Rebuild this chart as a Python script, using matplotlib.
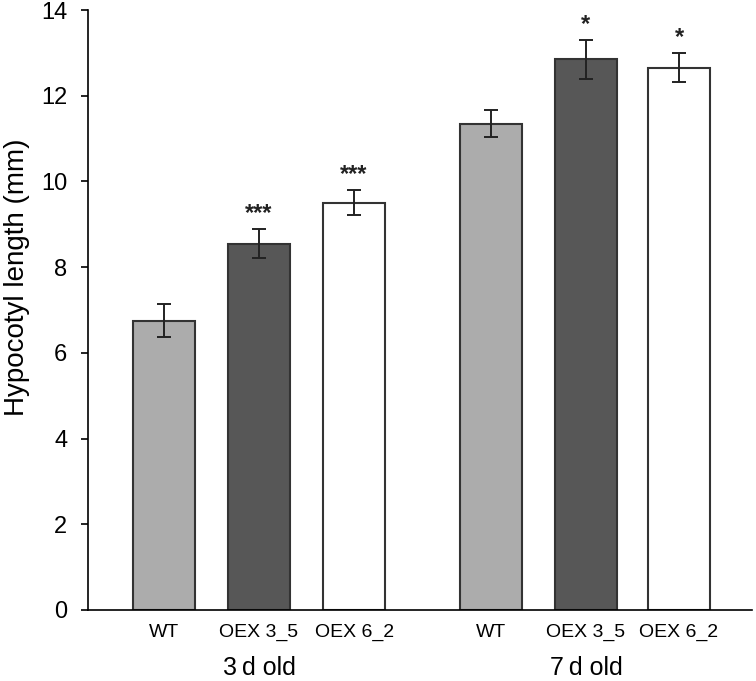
import matplotlib.pyplot as plt

plt.rcParams['font.family'] = ['Liberation Sans', 'DejaVu Sans']

# data
groups = ['3\u2009d old', '7\u2009d old']
lines = ['WT', 'OEX 3_5', 'OEX 6_2']
length_3d = [6.75, 8.55, 9.50]
err_3d = [0.38, 0.33, 0.29]
length_7d = [11.35, 12.85, 12.65]
err_7d = [0.32, 0.45, 0.34]
stars_3d = ['', '***', '***']
stars_7d = ['', '*', '*']

colors = ['#acacac', '#575757', '#ffffff']
pos_3d = [0, 1, 2]
pos_7d = [3.44, 4.44, 5.42]

fig = plt.figure(figsize=(7.56, 6.81), dpi=100)
ax = fig.add_axes([0.1164, 0.1043, 0.8786, 0.881])

for pos, vals, errs, stars in [(pos_3d, length_3d, err_3d, stars_3d),
                               (pos_7d, length_7d, err_7d, stars_7d)]:
    ax.bar(pos, vals, width=0.66, color=colors, edgecolor='#333333', linewidth=1.5)
    ax.errorbar(pos, vals, yerr=errs, fmt='none', ecolor='#222222',
                elinewidth=1.4, capsize=5, capthick=1.4)
    for x, v, e, s in zip(pos, vals, errs, stars):
        if s:
            ax.text(x, v + e + 0.1, s, ha='center', va='bottom',
                    fontsize=17, fontweight='bold', color='#222222')

ax.set_xlim(-0.8, 6.19)
ax.set_ylim(0, 14)
ax.set_yticks(range(0, 15, 2))
ax.tick_params(axis='y', labelsize=17, direction='out', length=5, width=1.2, pad=10)
ax.set_xticks(pos_3d + pos_7d)
ax.set_xticklabels(lines + lines, fontsize=14)
ax.tick_params(axis='x', length=0, pad=10)
ax.set_ylabel('Hypocotyl length (mm)', fontsize=20)
ax.yaxis.set_label_coords(-0.087, 0.555)

ax.spines['top'].set_visible(False)
ax.spines['right'].set_visible(False)
ax.spines['left'].set_linewidth(1.2)
ax.spines['bottom'].set_linewidth(1.2)

for name, pos in zip(groups, [pos_3d, pos_7d]):
    ax.text(pos[1], -1.36, name, ha='center', va='center', fontsize=18,
            transform=ax.transData)

fig.savefig('out.png', dpi=100)
